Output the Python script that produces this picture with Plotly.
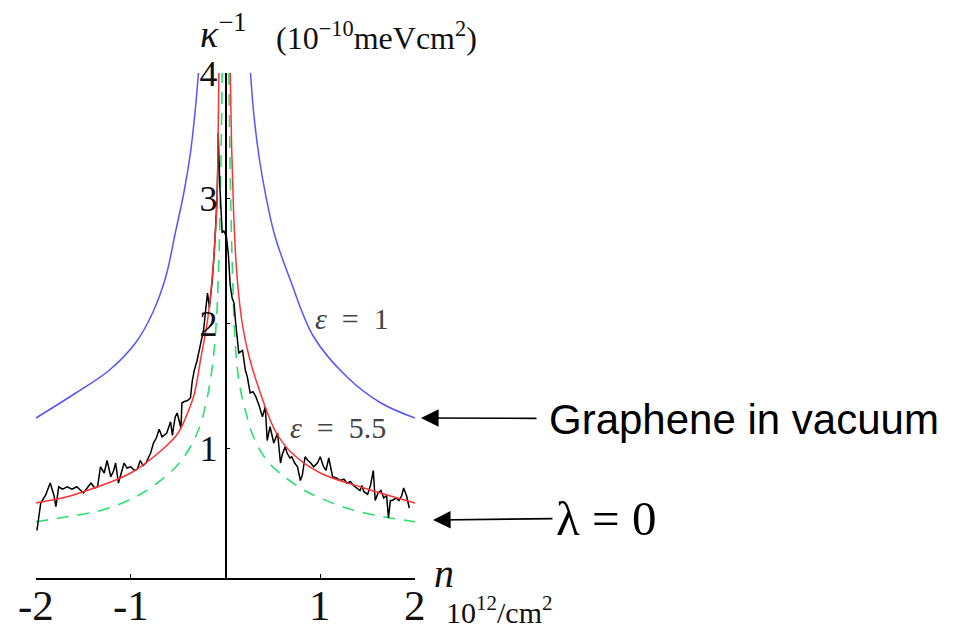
import plotly.graph_objects as go

# ---- data ----
blue_left_x = [-2.0, -1.58, -1.23, -0.95, -0.77, -0.63, -0.53, -0.44, -0.37, -0.32, -0.285]
blue_left_y = [1.24, 1.44, 1.62, 1.84, 2.08, 2.37, 2.72, 3.04, 3.36, 3.70, 4.0]
blue_right_x = [0.264, 0.30, 0.36, 0.43, 0.52, 0.686, 0.93, 1.28, 1.64, 2.0]
blue_right_y = [4.0, 3.66, 3.30, 3.0, 2.70, 2.34, 1.89, 1.57, 1.36, 1.24]

red_left_x = [-2.0, -1.67, -1.5, -1.14, -1.0, -0.86, -0.62, -0.5, -0.40, -0.33, -0.26, -0.19, -0.14, -0.09, -0.078, -0.07]
red_left_y = [0.56, 0.61, 0.65, 0.75, 0.80, 0.87, 1.02, 1.12, 1.28, 1.43, 1.72, 2.02, 2.37, 2.96, 3.5, 4.0]
red_right_x = [0.05, 0.065, 0.085, 0.11, 0.14, 0.18, 0.246, 0.35, 0.53, 0.70, 1.0, 1.46, 2.0]
red_right_y = [4.0, 3.4, 2.9, 2.5, 2.22, 1.98, 1.74, 1.48, 1.13, 0.96, 0.80, 0.68, 0.56]

green_left_x = [-2.0, -1.67, -1.32, -0.97, -0.72, -0.51, -0.37, -0.26, -0.16, -0.105, -0.07, -0.05, -0.035]
green_left_y = [0.41, 0.45, 0.50, 0.60, 0.72, 0.86, 1.01, 1.20, 1.54, 1.92, 2.5, 3.2, 4.0]
green_right_x = [0.035, 0.05, 0.07, 0.106, 0.15, 0.21, 0.30, 0.46, 0.77, 1.0, 1.32, 1.67, 2.0]
green_right_y = [4.0, 3.2, 2.5, 1.80, 1.50, 1.30, 1.08, 0.88, 0.69, 0.60, 0.51, 0.45, 0.41]

data_x = [-1.99, -1.95, -1.90, -1.85, -1.81, -1.79, -1.76, -1.72, -1.67, -1.62, -1.57, -1.53, -1.50, -1.46,
          -1.42, -1.38, -1.35, -1.32, -1.28, -1.25, -1.21, -1.18, -1.16, -1.13, -1.10, -1.07, -1.04, -1.00,
          -0.96, -0.93, -0.90, -0.87, -0.84, -0.79, -0.76, -0.73, -0.70, -0.67, -0.65, -0.62, -0.58, -0.56,
          -0.55, -0.53, -0.51, -0.47, -0.46, -0.44, -0.40, -0.37, -0.35, -0.33, -0.30, -0.26, -0.23, -0.21,
          -0.19, -0.17, -0.14, -0.12, -0.105, -0.09, -0.08, -0.077, -0.06, -0.045, -0.035, -0.02, 0.01, 0.03,
          0.05, 0.07, 0.09, 0.105, 0.14, 0.18, 0.21, 0.23, 0.26, 0.29, 0.32, 0.35, 0.37, 0.39, 0.42, 0.44,
          0.47, 0.49, 0.51, 0.55, 0.58, 0.60, 0.63, 0.65, 0.68, 0.70, 0.73, 0.76, 0.79, 0.81, 0.84, 0.87,
          0.90, 0.93, 0.97, 1.00, 1.03, 1.06, 1.09, 1.13, 1.17, 1.21, 1.25, 1.28, 1.32, 1.35, 1.39, 1.42,
          1.44, 1.46, 1.50, 1.53, 1.56, 1.58, 1.61, 1.64, 1.67, 1.70, 1.72, 1.74, 1.76, 1.80, 1.83, 1.86,
          1.88, 1.91, 1.94]
data_y = [0.34, 0.56, 0.62, 0.72, 0.62, 0.53, 0.69, 0.67, 0.69, 0.67, 0.69, 0.66, 0.64, 0.68,
          0.72, 0.68, 0.69, 0.85, 0.80, 0.90, 0.77, 0.82, 0.88, 0.72, 0.80, 0.88, 0.84, 0.85,
          0.82, 0.83, 0.90, 0.86, 0.88, 0.96, 1.04, 1.08, 1.15, 1.09, 1.10, 1.12, 1.21, 1.10,
          1.16, 1.25, 1.28, 1.16, 1.36, 1.37, 1.38, 1.40, 1.54, 1.62, 1.70, 1.84, 1.95, 2.10,
          2.24, 2.12, 2.34, 2.55, 2.77, 2.98, 3.30, 3.52, 3.10, 2.85, 2.72, 2.74, 2.69, 2.55,
          2.30, 2.20, 2.16, 2.02, 1.76, 1.78, 1.62, 1.57, 1.44, 1.45, 1.41, 1.35, 1.30, 1.25, 1.33, 1.06,
          1.17, 1.10, 1.04, 1.12, 0.88, 0.95, 1.01, 0.96, 0.92, 0.93, 0.88, 0.85, 0.74, 0.78, 0.93, 0.90,
          0.88, 0.85, 0.88, 0.93, 0.86, 0.82, 0.92, 0.77, 0.76, 0.74, 0.75, 0.72, 0.73, 0.70, 0.68, 0.66,
          0.70, 0.65, 0.63, 0.70, 0.82, 0.58, 0.64, 0.66, 0.60, 0.62, 0.44, 0.58, 0.58, 0.60, 0.58, 0.62,
          0.68, 0.62, 0.52]

x_tickvals = [-2, -1, 1, 2]
x_ticktext = ["-2", "-1", "1", "2"]
y_tickvals = [1, 2, 3, 4]
y_ticktext = ["1", "2", "3", "4"]

W, H = 955, 635
OFF = 8  # page body margin offset
def px(x):
    return (x - OFF) / W
def py(y):
    return 1 - (y - OFF) / H

BLUE = "rgb(85,85,255)"
RED = "rgb(255,50,50)"
GREEN = "rgb(40,225,110)"
SERIF = "Liberation Serif, DejaVu Serif, serif"
SANS = "Liberation Sans, Arial, sans-serif"

fig = go.Figure()
for xs, ys in [(blue_left_x, blue_left_y), (blue_right_x, blue_right_y)]:
    fig.add_trace(go.Scatter(x=xs, y=ys, mode="lines", line=dict(color=BLUE, width=1.5, shape="spline"),
                             showlegend=False, hoverinfo="skip"))
for xs, ys in [(green_left_x, green_left_y), (green_right_x, green_right_y)]:
    fig.add_trace(go.Scatter(x=xs, y=ys, mode="lines",
                             line=dict(color=GREEN, width=1.6, dash="12px,9px", shape="spline"),
                             showlegend=False, hoverinfo="skip"))
fig.add_trace(go.Scatter(x=data_x, y=data_y, mode="lines", line=dict(color="black", width=1.5),
                         showlegend=False, hoverinfo="skip"))
for xs, ys in [(red_left_x, red_left_y), (red_right_x, red_right_y)]:
    fig.add_trace(go.Scatter(x=xs, y=ys, mode="lines", line=dict(color=RED, width=1.5, shape="spline"),
                             showlegend=False, hoverinfo="skip"))

fig.update_layout(
    width=W, height=H,
    margin=dict(l=0, r=0, t=0, b=0, autoexpand=False),
    paper_bgcolor="white", plot_bgcolor="white",
    showlegend=False,
    xaxis=dict(domain=[px(36), px(415)], range=[-2, 2], showgrid=False, zeroline=False,
               automargin=False,
               showline=True, linecolor="black", linewidth=1.5,
               ticks="inside", ticklen=4, tickwidth=1, tickcolor="black",
               tickvals=x_tickvals, showticklabels=False),
    yaxis=dict(domain=[py(578), py(73)], range=[-0.04, 4], showgrid=False, zeroline=False,
               automargin=False,
               anchor="free", position=px(225.5),
               showline=True, linecolor="black", linewidth=1.5,
               ticks="inside", ticklen=4, tickwidth=1, tickcolor="black",
               tickvals=y_tickvals, ticktext=y_ticktext,
               tickfont=dict(family=SERIF, size=36, color="#111"), ticklabelstandoff=0),
)

ann = []
def text(x, y, t, size, family=SERIF, color="#111", xanchor="left"):
    ann.append(dict(x=px(x), y=py(y), xref="paper", yref="paper", text=t, showarrow=False,
                    xanchor=xanchor, yanchor="middle", font=dict(family=family, size=size, color=color)))

# x tick labels placed on the x data scale, just under the axis
for v, t in zip(x_tickvals, x_ticktext):
    ann.append(dict(x=v, y=py(605), xref="x", yref="paper", text=t, showarrow=False,
                    xanchor="center", yanchor="middle",
                    font=dict(family=SERIF, size=43, color="#111")))

text(198, 31, "<i>κ</i><sup>−1</sup>", 38)
text(274, 36, "(10<sup>−10</sup>meVcm<sup>2</sup>)", 32)
text(432, 573, "<i>n</i>", 40)
text(444, 610, "10<sup>12</sup>/cm<sup>2</sup>", 30)
text(313, 318, "<i>ε</i>&nbsp;&nbsp;=&nbsp;&nbsp;1", 30, color="#444")
text(288, 427, "<i>ε</i>&nbsp;&nbsp;=&nbsp;&nbsp;5.5", 30, color="#444")

# labelled arrows: the label sits at the arrow tail, the head points at the curve end
for label, size, fam, tipx, tipy, cx, cy, pad in [
        ("Graphene in vacuum", 42, SANS, 421, 418, 744, 419, 12),
        ("λ = 0", 49, SERIF, 433, 520, 606, 518, 3)]:
    ann.append(dict(x=px(tipx), y=py(tipy), xref="paper", yref="paper",
                    ax=cx - tipx, ay=cy - tipy, axref="pixel", ayref="pixel",
                    text=label, font=dict(family=fam, size=size, color="black"),
                    borderpad=pad, showarrow=True, arrowhead=2, arrowsize=2.2, arrowwidth=1.6,
                    arrowcolor="black", standoff=0))
fig.update_layout(annotations=ann)

fig.write_html("out.html")
